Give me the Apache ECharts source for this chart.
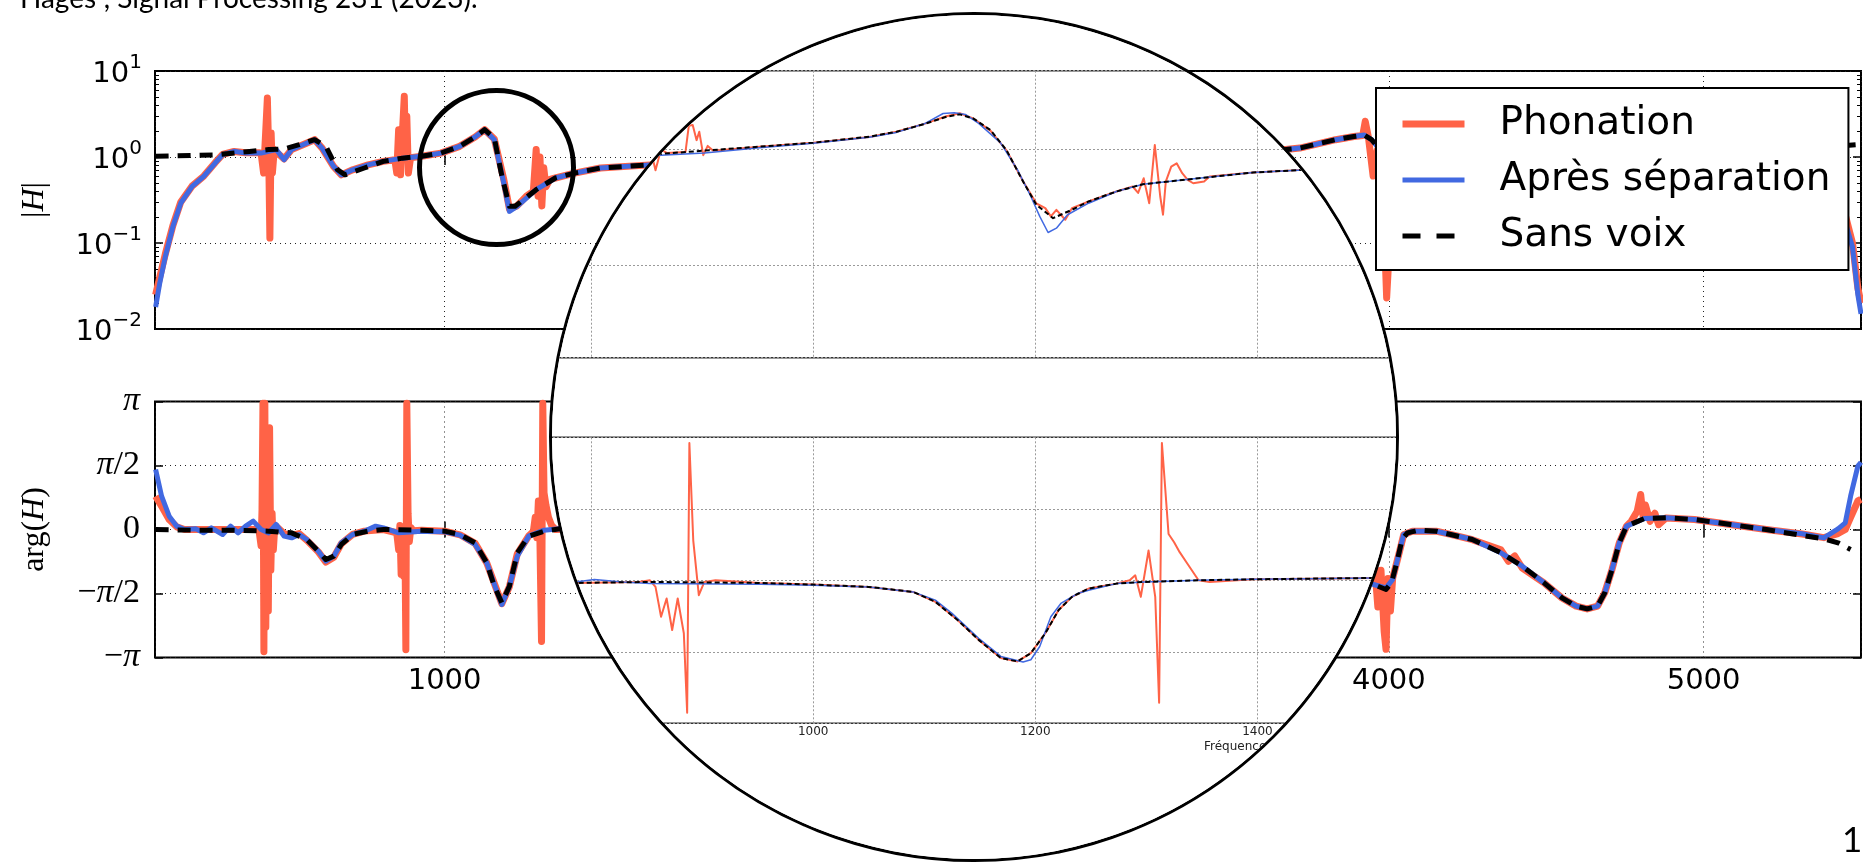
<!DOCTYPE html>
<html>
<head>
<meta charset="utf-8">
<script src="https://cdn.jsdelivr.net/npm/echarts@6/dist/echarts.min.js"></script>
<style>
html,body{margin:0;padding:0;background:#fff;width:1863px;height:862px;overflow:hidden;}
#main{position:absolute;left:0;top:0;width:1863px;height:862px;}
#lens{position:absolute;left:549px;top:12px;width:850px;height:850px;box-sizing:border-box;border:3px solid #000;border-radius:50%;overflow:hidden;background:#fff;}
#zoom{position:absolute;left:-552px;top:-15px;width:1863px;height:862px;}
#cite{position:absolute;left:20px;top:-17px;font-family:Lato,'Open Sans',sans-serif;font-size:28px;line-height:28px;color:#000;white-space:nowrap;}
#pagenum{position:absolute;left:1842px;top:821px;font-family:Lato,sans-serif;font-size:35px;line-height:35px;color:#000;}
</style>
</head>
<body>
<div id="main"></div>
<div id="cite">Hages", Signal Processing 231 (2023).</div>
<div id="pagenum">1</div>
<div id="lens"><div id="zoom"></div></div>
<script>
// ---------------- data : main figure ----------------
const FREQ_MIN = 80, FREQ_MAX = 5500;
const seriesNames = ['Phonation', 'Après séparation', 'Sans voix'];

// |H| (top panel)
const phonTopHz = [82,95,113,137,162,198,235,271,295,331,368,410,417,425,432,437,441,445,449,453,459,465,490,514,550,587,611,647,672,708,757,805,842,848,854,860,866,872,876,880,885,892,927,988,1048,1097,1127,1158,1188,1206,1230,1260,1282,1291,1297,1303,1309,1315,1322,1335,1352,1413,1495,1653,1700,2600,3650,3717,3831,3889,3917,3925,3935,3950,3963,3980,3993,3998,4005,4020,4200,4600,5000,5300,5420,5445,5473,5490,5500];
const phonTopMag = [0.025,0.04,0.075,0.16,0.30,0.46,0.60,0.86,1.07,1.16,1.12,1.12,1.11,0.65,2.08,4.85,1.22,0.114,1.9,0.65,1.22,1.15,0.95,1.22,1.39,1.59,1.27,0.78,0.62,0.71,0.81,0.89,0.93,0.65,2.08,0.62,1.9,5.07,1.02,2.97,0.65,0.98,1.02,1.11,1.33,1.71,2.08,1.62,0.55,0.25,0.27,0.35,0.40,1.22,0.35,1.0,0.27,0.75,0.45,0.55,0.57,0.65,0.745,0.81,0.82,null,1.2,1.27,1.59,1.73,1.78,2.6,1.7,0.6,1.2,0.5,0.023,0.05,1.0,1.3,1.25,0.8,1.2,1.2,0.65,0.25,0.1,0.03,0.02];

const sepTopHz = [82,95,113,137,162,198,235,271,295,331,368,417,465,490,514,550,587,611,647,672,708,757,805,866,927,988,1048,1097,1127,1158,1188,1206,1230,1291,1352,1413,1495,1653,1700,2600,3650,3717,3831,3889,3922,3945,3963,4200,4600,5000,5300,5420,5445,5473,5490,5500];
const sepTopMag = [0.018,0.034,0.070,0.156,0.292,0.456,0.596,0.851,1.065,1.164,1.11,1.11,1.22,0.93,1.22,1.39,1.59,1.27,0.78,0.62,0.71,0.81,0.89,0.97,1.02,1.11,1.33,1.71,2.08,1.59,0.50,0.233,0.267,0.417,0.57,0.65,0.745,0.81,0.82,null,1.2,1.27,1.59,1.73,1.80,1.59,1.33,1.25,0.8,1.2,1.2,0.6,0.2,0.09,0.025,0.015];

const unvTopHz = [82,271,380,441,490,538,587,623,660,684,745,805,866,927,988,1048,1097,1127,1158,1182,1206,1224,1291,1352,1413,1495,1653,1700,2600,3650,3717,3831,3889,3922,3945,3963,4200,4600,5000,5300,5440,5500];
const unvTopMag = [1.02,1.06,1.16,1.22,1.24,1.39,1.59,1.33,0.71,0.62,0.745,0.89,0.97,1.02,1.11,1.33,1.71,2.08,1.66,0.6,0.267,0.267,0.417,0.57,0.65,0.745,0.81,0.82,null,1.2,1.27,1.59,1.73,1.80,1.59,1.33,1.25,0.8,1.2,1.25,1.35,1.4];

// arg(H) in radians (bottom panel)
const phonBotHz = [82,101,125,149,174,234,295,344,392,410,417,420,423,426,429,432,435,440,444,448,452,456,460,465,490,514,538,562,599,623,648,672,708,745,806,848,854,858,862,866,870,874,877,880,884,888,893,900,927,1000,1049,1097,1134,1164,1182,1206,1231,1267,1282,1288,1293,1298,1303,1308,1312,1316,1322,1330,1340,1352,1420,2600,3900,3940,3955,3965,3975,3985,3991,3997,4005,4012,4030,4047,4075,4150,4196,4265,4356,4380,4400,4424,4493,4550,4595,4630,4663,4686,4709,4732,4755,4770,4789,4800,4808,4815,4830,4845,4857,4880,4971,5085,5199,5313,5382,5427,5450,5467,5490,5500];
const phonBotPhase = [0.818,0.57,0.245,0.065,0,0,0,0,0,0,-0.4,0.5,3.1,-3.0,3.1,-2.4,0.6,-2.0,2.5,-1.0,0.4,-0.5,0,0.08,-0.1,-0.15,-0.1,-0.26,-0.55,-0.8,-0.68,-0.35,-0.12,-0.04,0,-0.08,-0.5,0.1,-1.1,-0.3,-1.15,-0.2,-2.95,3.1,0.4,-0.3,0.05,-0.03,-0.02,-0.04,-0.13,-0.34,-0.82,-1.45,-1.82,-1.40,-0.60,-0.16,-0.05,0.3,-0.2,0.7,-0.3,-2.75,3.1,0.9,0.6,0.3,0.1,0,0.02,null,-1.2,-1.3,-0.9,-1.9,-1.0,-2.5,-2.94,-1.2,-2.0,-1.2,-0.66,-0.13,-0.04,-0.04,-0.12,-0.25,-0.5,-0.78,-0.65,-0.95,-1.31,-1.68,-1.88,-1.95,-1.88,-1.55,-0.98,-0.33,0.08,0.2,0.45,0.86,0.3,0.6,0.2,0.4,0.12,0.28,0.245,0.123,0,-0.11,-0.2,-0.1,0,0.3,0.7,0.74];

const sepBotHz = [82,101,125,149,174,210,234,259,295,320,344,368,392,417,441,465,490,514,538,562,599,623,648,672,708,745,781,806,854,927,1000,1049,1097,1134,1164,1182,1206,1231,1267,1316,1364,1420,2600,3900,3951,3991,4012,4030,4047,4075,4150,4196,4265,4356,4424,4493,4550,4595,4630,4663,4686,4709,4732,4755,4812,4880,4971,5085,5199,5313,5382,5427,5450,5467,5490,5500];
const sepBotPhase = [1.473,0.818,0.327,0.082,0,0.016,-0.082,0.041,-0.123,0.082,-0.082,0.082,0.205,0,-0.082,0.123,-0.164,-0.205,-0.123,-0.245,-0.532,-0.777,-0.654,-0.327,-0.123,-0.041,0.082,0.041,-0.082,-0.041,-0.057,-0.139,-0.368,-0.818,-1.473,-1.841,-1.391,-0.654,-0.164,-0.016,0.016,0.02,null,-1.2,-1.35,-1.432,-1.227,-0.654,-0.123,-0.04,-0.041,-0.123,-0.245,-0.573,-0.900,-1.309,-1.677,-1.882,-1.947,-1.882,-1.554,-0.982,-0.327,0.082,0.270,0.286,0.245,0.123,0,-0.106,-0.205,0.016,0.164,0.818,1.554,1.65];

const unvBotHz = [82,198,320,441,514,562,599,623,648,672,708,757,806,927,1000,1049,1097,1134,1158,1182,1206,1231,1267,1316,1364,1420,2600,3900,3951,3991,4008,4025,4042,4059,4094,4150,4196,4265,4356,4424,4493,4550,4595,4630,4663,4686,4709,4732,4755,4812,4880,4971,5085,5199,5313,5382,5427,5467];
const unvBotPhase = [0,-0.016,-0.016,-0.041,-0.082,-0.245,-0.532,-0.736,-0.654,-0.368,-0.123,-0.041,0,-0.016,-0.041,-0.123,-0.327,-0.818,-1.391,-1.80,-1.391,-0.573,-0.164,-0.041,0.016,0.02,null,-1.2,-1.35,-1.473,-1.309,-0.818,-0.245,-0.082,-0.016,-0.041,-0.123,-0.245,-0.573,-0.900,-1.309,-1.677,-1.882,-1.947,-1.882,-1.554,-0.982,-0.327,0.082,0.270,0.286,0.245,0.123,0,-0.147,-0.229,-0.327,-0.491];

// ---------------- data : magnified inset ----------------
const zPhonTopHz = [780,853,858,863,868,885,888,891.5,895,897.4,901,905,910,951.7,1000,1050.5,1075,1100,1120,1132,1144,1159.6,1174,1189,1201,1209,1214,1219,1227,1233,1248,1273,1287.7,1292.6,1297.6,1302.6,1307.6,1312.5,1315,1317.5,1322.4,1327.3,1332.3,1337.2,1342.2,1352,1357,1396,1441,1520];
const zPhonTopMag = [0.90,1.05,0.66,1.0,0.93,0.95,1.60,1.62,1.2,1.42,0.89,1.07,0.97,1.05,1.14,1.28,1.42,1.66,1.93,2.05,1.85,1.45,0.98,0.53,0.34,0.31,0.263,0.30,0.246,0.31,0.354,0.432,0.477,0.42,0.562,0.342,1.09,0.391,0.272,0.526,0.709,0.757,0.621,0.544,0.509,0.526,0.581,0.63,0.664,0.69];
const zSepTopHz = [780,862.8,902,951.7,1000,1050.5,1075,1100,1117,1127,1137,1149,1169,1184,1196,1204,1211.5,1219,1229,1248,1273,1297,1347,1396,1441,1520];
const zSepTopMag = [0.88,0.89,0.93,1.03,1.13,1.27,1.40,1.66,2.04,2.07,2.0,1.675,1.127,0.664,0.391,0.263,0.191,0.208,0.272,0.342,0.432,0.499,0.562,0.630,0.664,0.69];
const zUnvTopHz = [780,862.8,902,951.7,1000,1050.5,1075,1100,1120,1132,1144,1159.6,1174,1189,1201,1216,1233,1248,1273,1297,1347,1396,1441,1520];
const zUnvTopMag = [0.90,0.912,0.975,1.054,1.140,1.285,1.419,1.652,1.914,2.004,1.849,1.469,0.986,0.526,0.331,0.254,0.300,0.354,0.432,0.499,0.562,0.630,0.664,0.69];

const zPhonBotHz = [760,786,843,853,858,863,868,873,878,883.5,886.5,888.5,892,897,902,912,952,1000,1050,1090,1110,1130,1149,1169,1184,1196,1209,1221,1233,1248,1273,1285,1290,1295,1302,1308,1311.5,1314,1320,1325,1330,1337,1347,1357,1396,1446,1505,1540];
const zPhonBotPhase = [-0.06,-0.058,-0.036,0,-0.145,-0.800,-0.400,-1.091,-0.400,-1.164,-2.909,3.018,0.873,-0.327,-0.036,0,-0.058,-0.095,-0.145,-0.255,-0.473,-0.873,-1.309,-1.709,-1.782,-1.600,-1.164,-0.654,-0.364,-0.182,-0.073,0,0.109,-0.364,0.654,-0.364,-2.691,3.018,1.018,0.836,0.618,0.364,0,-0.036,0.022,0.036,0.051,0.055];
const zSepBotHz = [760,786,803,828,853,952,1000,1050,1090,1110,1125,1149,1169,1189,1196,1204,1214,1223,1238,1248,1273,1298,1347,1396,1446,1505,1540];
const zSepBotPhase = [-0.04,-0.036,0.015,-0.036,-0.073,-0.087,-0.109,-0.145,-0.255,-0.436,-0.727,-1.273,-1.673,-1.796,-1.745,-1.454,-0.800,-0.509,-0.291,-0.218,-0.073,-0.036,0,0.022,0.036,0.051,0.055];
const zUnvBotHz = [760,786,853,952,1000,1050,1090,1110,1130,1149,1169,1184,1196,1209,1221,1233,1248,1273,1298,1347,1396,1446,1505,1540];
const zUnvBotPhase = [-0.06,-0.058,-0.036,-0.058,-0.095,-0.145,-0.255,-0.473,-0.873,-1.309,-1.709,-1.782,-1.600,-1.164,-0.654,-0.364,-0.182,-0.073,-0.036,0,0.022,0.036,0.051,0.055];

const magTickMultipliers = [2,3,4,5,6,7,8,9];
const magDecades = [-2,-1,0];

// ---------------- helpers ----------------
const zip = (xs, ys) => xs.map((x, i) => [x, ys[i]]);
const FONT = 'DejaVu Sans';
const SERIF = 'Liberation Serif';
const RED = '#FF6347', BLUE = '#4169E1', BLACK = '#000000';
const HALF_PI = Math.PI / 2;
const plainNumber = v => String(Math.round(v));

const minorLogPositions = [];
magDecades.forEach(d => magTickMultipliers.forEach(m => minorLogPositions.push(d + Math.log10(m))));

const dotted = { color: '#222', width: 1, type: [1, 4] };
const tickIn = { show: true, inside: true, length: 8, lineStyle: { color: '#000', width: 1.5 } };

function logLabel(v) {
  const e = Math.round(Math.log10(v));
  return '{b|10}{s|' + (e < 0 ? '\u2212' + (-e) : e) + '}';
}
function phaseLabel(v) {
  const k = Math.round(v / HALF_PI);
  const map = {
    '2': '{p|\u03c0}',
    '1': '{p|\u03c0}{r|/2}',
    '0': '{r|0}',
    '-1': '{r|\u2212}{p|\u03c0}{r|/2}',
    '-2': '{r|\u2212}{p|\u03c0}'
  };
  return map[String(k)] || '';
}

const xBase = { type: 'value', min: FREQ_MIN, max: FREQ_MAX, splitNumber: 5, axisLine: { show: false } };

function mainSeries(name, xIdx, yIdx, xs, ys, color, width, dash, z) {
  return {
    name: name, type: 'line', xAxisIndex: xIdx, yAxisIndex: yIdx,
    data: zip(xs, ys), symbol: 'none', showSymbol: false, connectNulls: false,
    lineStyle: { color: color, width: width, type: dash || 'solid', cap: 'butt', join: 'round' },
    itemStyle: { color: color }, z: z, silent: true, animation: false
  };
}

// ---------------- main chart ----------------
const main = echarts.init(document.getElementById('main'));
main.setOption({
  animation: false,
  backgroundColor: 'transparent',
  grid: [
    { left: 155, top: 71, width: 1706, height: 258, show: true, borderColor: '#000', borderWidth: 2, backgroundColor: 'rgba(0,0,0,0)' },
    { left: 155, top: 401.5, width: 1706, height: 256, show: true, borderColor: '#000', borderWidth: 2, backgroundColor: 'rgba(0,0,0,0)' }
  ],
  xAxis: [
    Object.assign({}, xBase, { gridIndex: 0, position: 'bottom', axisTick: tickIn, axisLabel: { show: false }, splitLine: { show: true, lineStyle: dotted } }),
    Object.assign({}, xBase, { gridIndex: 0, position: 'top', axisTick: tickIn, axisLabel: { show: false }, splitLine: { show: false } }),
    Object.assign({}, xBase, { gridIndex: 1, position: 'bottom', axisTick: tickIn,
      axisLabel: { show: true, fontFamily: FONT, fontSize: 29, color: '#000', margin: 9, showMinLabel: false, showMaxLabel: false, formatter: plainNumber },
      splitLine: { show: true, lineStyle: dotted } }),
    Object.assign({}, xBase, { gridIndex: 1, position: 'top', axisTick: tickIn, axisLabel: { show: false }, splitLine: { show: false } })
  ],
  yAxis: [
    { gridIndex: 0, type: 'log', logBase: 10, min: 0.01, max: 10, position: 'left',
      axisLine: { show: false }, axisTick: tickIn, splitLine: { show: true, lineStyle: dotted },
      axisLabel: { margin: 13, formatter: logLabel, rich: {
        b: { fontFamily: FONT, fontSize: 29, color: '#000', lineHeight: 36, verticalAlign: 'bottom' },
        s: { fontFamily: FONT, fontSize: 20, color: '#000', lineHeight: 36, verticalAlign: 'top' } } },
      name: '|{i|H}|', nameLocation: 'middle', nameRotate: 90, nameGap: 104,
      nameTextStyle: { fontFamily: SERIF, fontSize: 32, color: '#000',
        rich: { i: { fontFamily: SERIF, fontStyle: 'italic', fontSize: 32, color: '#000' } } } },
    { gridIndex: 0, type: 'value', min: -2, max: 1, position: 'left',
      axisLine: { show: false }, axisLabel: { show: false }, splitLine: { show: false },
      axisTick: { show: true, inside: true, length: 4, customValues: minorLogPositions, lineStyle: { color: '#000', width: 1 } } },
    { gridIndex: 0, type: 'log', logBase: 10, min: 0.01, max: 10, position: 'right',
      axisLine: { show: false }, axisLabel: { show: false }, splitLine: { show: false }, axisTick: tickIn },
    { gridIndex: 0, type: 'value', min: -2, max: 1, position: 'right',
      axisLine: { show: false }, axisLabel: { show: false }, splitLine: { show: false },
      axisTick: { show: true, inside: true, length: 4, customValues: minorLogPositions, lineStyle: { color: '#000', width: 1 } } },
    { gridIndex: 1, type: 'value', min: -Math.PI, max: Math.PI, interval: HALF_PI, position: 'left',
      axisLine: { show: false }, axisTick: tickIn, splitLine: { show: true, lineStyle: dotted },
      axisLabel: { margin: 15, formatter: phaseLabel, rich: {
        p: { fontFamily: SERIF, fontStyle: 'italic', fontSize: 34, color: '#000' },
        r: { fontFamily: SERIF, fontSize: 34, color: '#000' } } },
      name: 'arg({i|H})', nameLocation: 'middle', nameRotate: 90, nameGap: 104,
      nameTextStyle: { fontFamily: SERIF, fontSize: 32, color: '#000',
        rich: { i: { fontFamily: SERIF, fontStyle: 'italic', fontSize: 32, color: '#000' } } } },
    { gridIndex: 1, type: 'value', min: -Math.PI, max: Math.PI, interval: HALF_PI, position: 'right',
      axisLine: { show: false }, axisLabel: { show: false }, splitLine: { show: false }, axisTick: tickIn }
  ],
  legend: {
    show: true, orient: 'vertical', left: 1376, top: 88, z: 20, selectedMode: false,
    backgroundColor: '#fff', borderColor: '#000', borderWidth: 2, borderRadius: 0,
    padding: [13, 18, 11, 23], itemWidth: 62, itemHeight: 8, itemGap: 10,
    lineStyle: { width: 'inherit' },
    itemStyle: { opacity: 0 },
    textStyle: { fontFamily: FONT, fontSize: 39, color: '#000', lineHeight: 46, padding: [0, 0, 0, 30] },
    data: [
      { name: seriesNames[0] },
      { name: seriesNames[1] },
      { name: seriesNames[2], lineStyle: { type: [18, 16] } }
    ]
  },
  graphic: [
    { type: 'circle', shape: { cx: 496.5, cy: 167.5, r: 77 }, style: { fill: 'none', stroke: '#000', lineWidth: 5 }, z: 100, silent: true }
  ],
  series: [
    mainSeries(seriesNames[0], 0, 0, phonTopHz, phonTopMag, RED, 7, null, 2),
    mainSeries(seriesNames[1], 0, 0, sepTopHz, sepTopMag, BLUE, 5, null, 3),
    mainSeries(seriesNames[2], 0, 0, unvTopHz, unvTopMag, BLACK, 5, [13, 9], 4),
    mainSeries(seriesNames[0], 2, 4, phonBotHz, phonBotPhase, RED, 7, null, 2),
    mainSeries(seriesNames[1], 2, 4, sepBotHz, sepBotPhase, BLUE, 5, null, 3),
    mainSeries(seriesNames[2], 2, 4, unvBotHz, unvBotPhase, BLACK, 5, [13, 9], 4)
  ]
});

// ---------------- magnified inset ----------------
const zoomChart = echarts.init(document.getElementById('zoom'));
const innerSplit = { show: true, lineStyle: { color: '#9a9a9a', width: 1, type: [2, 2] } };
const innerXBase = { type: 'value', min: 600, max: 1600, interval: 200, axisLine: { show: false }, axisTick: { show: false }, splitLine: innerSplit };
zoomChart.setOption({
  animation: false,
  backgroundColor: '#fff',
  grid: [
    { left: 369, top: 70.7, width: 1110.5, height: 287, show: true, borderColor: '#333', borderWidth: 1.5, backgroundColor: 'rgba(0,0,0,0)' },
    { left: 369, top: 437.3, width: 1110.5, height: 286, show: true, borderColor: '#333', borderWidth: 1.5, backgroundColor: 'rgba(0,0,0,0)' }
  ],
  xAxis: [
    Object.assign({}, innerXBase, { gridIndex: 0, axisLabel: { show: false } }),
    Object.assign({}, innerXBase, { gridIndex: 1, axisLabel: { show: true, fontFamily: FONT, fontSize: 12, color: '#222', margin: 3, formatter: plainNumber } })
  ],
  yAxis: [
    { gridIndex: 0, type: 'log', logBase: 10, min: 0.0158, max: 4.78, axisLine: { show: false }, axisTick: { show: false }, axisLabel: { show: false }, splitLine: innerSplit },
    { gridIndex: 1, type: 'value', min: -Math.PI, max: Math.PI, interval: HALF_PI, axisLine: { show: false }, axisTick: { show: false }, axisLabel: { show: false }, splitLine: innerSplit }
  ],
  graphic: [
    { type: 'text', left: 1204, top: 741, silent: true, style: { text: 'Fréquence (Hz)', fontFamily: FONT, fontSize: 12, fill: '#222' } }
  ],
  series: [
    mainSeries(seriesNames[0], 0, 0, zPhonTopHz, zPhonTopMag, RED, 2, null, 2),
    mainSeries(seriesNames[1], 0, 0, zSepTopHz, zSepTopMag, BLUE, 1.5, null, 3),
    mainSeries(seriesNames[2], 0, 0, zUnvTopHz, zUnvTopMag, BLACK, 2, [5, 3], 4),
    mainSeries(seriesNames[0], 1, 1, zPhonBotHz, zPhonBotPhase, RED, 2, null, 2),
    mainSeries(seriesNames[1], 1, 1, zSepBotHz, zSepBotPhase, BLUE, 1.5, null, 3),
    mainSeries(seriesNames[2], 1, 1, zUnvBotHz, zUnvBotPhase, BLACK, 2, [5, 3], 4)
  ]
});
</script>
</body>
</html>
